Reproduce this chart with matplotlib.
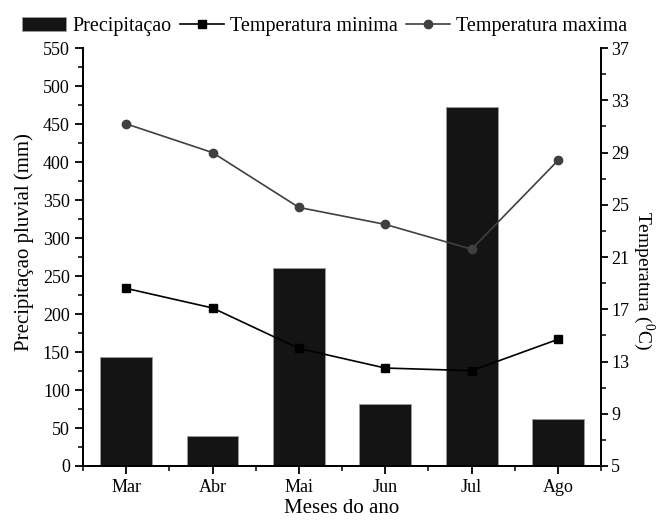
import matplotlib
matplotlib.use("Agg")
import matplotlib.pyplot as plt
from matplotlib.ticker import MultipleLocator

plt.rcParams['font.family'] = ['Liberation Serif', 'DejaVu Serif']
plt.rcParams['mathtext.fontset'] = 'custom'
plt.rcParams['mathtext.rm'] = 'Liberation Serif'

# data
meses = ['Mar', 'Abr', 'Mai', 'Jun', 'Jul', 'Ago']
precipitacao = [143, 39, 260, 82, 472, 62]
temp_min = [18.6, 17.1, 14.0, 12.5, 12.3, 14.7]
temp_max = [31.2, 29.0, 24.8, 23.5, 21.6, 28.4]

fig = plt.figure(figsize=(6.56, 5.23), dpi=100)
ax = fig.add_axes([0.1265, 0.109, 0.790, 0.799])
ax2 = ax.twinx()

x = range(len(meses))
bars = ax.bar(x, precipitacao, width=0.6, color='#141414',
              edgecolor='#9a9a9a', linewidth=0.6, label='Precipitaçao')
l1, = ax2.plot(x, temp_min, color='black', marker='s', markersize=6,
               linewidth=1.2, label='Temperatura minima')
l2, = ax2.plot(x, temp_max, color='#404040', marker='o', markersize=6,
               linewidth=1.2, label='Temperatura maxima')

ax.set_xlim(-0.5, 5.5)
ax.set_ylim(0, 550)
ax2.set_ylim(5, 37)
ax.set_xticks(list(x))
ax.set_xticklabels(meses)
ax.set_xticks([i + 0.5 for i in range(-1, 6)], minor=True)
ax.yaxis.set_major_locator(MultipleLocator(50))
ax.yaxis.set_minor_locator(MultipleLocator(25))
ax2.set_yticks(range(5, 38, 4))
ax2.set_yticks(range(7, 37, 4), minor=True)

for a in (ax, ax2):
    a.spines['top'].set_visible(False)
    for s in a.spines.values():
        s.set_linewidth(1.3)
    a.tick_params(which='major', direction='out', length=6, width=1.3,
                  labelsize=13)
    a.tick_params(which='minor', direction='out', length=3.5, width=1.1)
ax2.tick_params(which='major', length=5, pad=2)

ax.set_xlabel('Meses do ano', fontsize=15, labelpad=2)
ax.set_ylabel('Precipitaçao pluvial (mm)', fontsize=15)
ax.yaxis.set_label_coords(-0.113, 0.536)
ax.yaxis.label.set_va('center')
ax2.set_ylabel('Temperatura ($^{0}$C)', fontsize=14, rotation=-90)
ax2.yaxis.set_label_coords(1.083, 0.443)
ax2.yaxis.label.set_va('center')

fig.legend([bars, l1, l2],
           ['Precipitaçao', 'Temperatura minima', 'Temperatura maxima'],
           loc='center', bbox_to_anchor=(0.495, 0.95), ncol=3, frameon=False,
           fontsize=14.5, handlelength=2.2, handletextpad=0.3,
           columnspacing=0.4, borderpad=0)

fig.savefig('out.png', dpi=100)
